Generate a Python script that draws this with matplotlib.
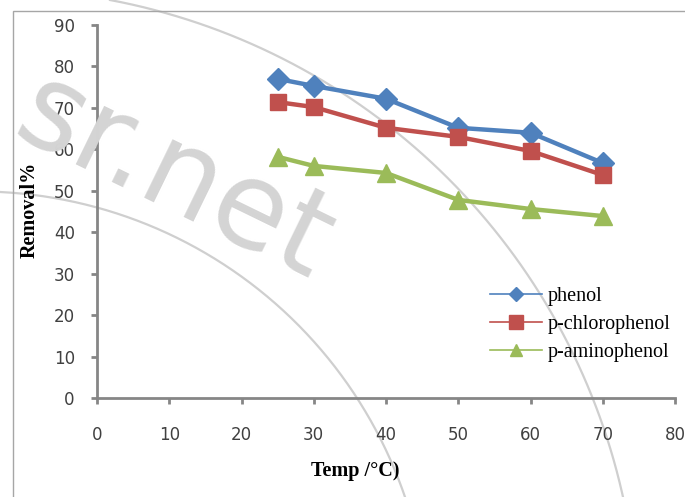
import matplotlib.pyplot as plt
import numpy as np
from matplotlib.patches import Rectangle

# temperatura (°C) e remocao (%) de cada composto
temp = [25, 30, 40, 50, 60, 70]
phenol = [77.0, 75.3, 72.2, 65.2, 64.0, 56.7]
p_chlorophenol = [71.4, 70.2, 65.2, 63.0, 59.6, 53.8]
p_aminophenol = [58.2, 56.0, 54.3, 47.8, 45.6, 43.9]

x_ticks = [0, 10, 20, 30, 40, 50, 60, 70, 80]
y_ticks = [0, 10, 20, 30, 40, 50, 60, 70, 80, 90]

W, H = 685, 497


def arco_por_tres_pontos(p1, p2, p3, n=200):
    # circulo que passa pelos tres pontos, em pixels (y para baixo)
    (x1, y1), (x2, y2), (x3, y3) = p1, p2, p3
    d = 2 * (x1 * (y2 - y3) + x2 * (y3 - y1) + x3 * (y1 - y2))
    ux = ((x1**2 + y1**2) * (y2 - y3) + (x2**2 + y2**2) * (y3 - y1) + (x3**2 + y3**2) * (y1 - y2)) / d
    uy = ((x1**2 + y1**2) * (x3 - x2) + (x2**2 + y2**2) * (x1 - x3) + (x3**2 + y3**2) * (x2 - x1)) / d
    r = np.hypot(x1 - ux, y1 - uy)
    a1 = np.arctan2(y1 - uy, x1 - ux)
    a3 = np.arctan2(y3 - uy, x3 - ux)
    a2 = np.arctan2(y2 - uy, x2 - ux)
    # garante que o arco passe pelo ponto do meio
    if not (min(a1, a3) <= a2 <= max(a1, a3)):
        if a3 < a1:
            a3 += 2 * np.pi
        else:
            a1 += 2 * np.pi
    t = np.linspace(a1, a3, n)
    return (ux + r * np.cos(t)) / W, 1 - (uy + r * np.sin(t)) / H


fig = plt.figure(figsize=(6.85, 4.97), dpi=100)

# moldura da area do grafico
fig.patches.append(Rectangle((13 / W, -0.1), 1.2, 1 - 11 / H + 0.1,
                             transform=fig.transFigure, fill=False,
                             edgecolor="#a6a6a6", linewidth=1.0))

# marca d'agua
for pts in [((110, 0), (510, 250), (623, 497)),
            ((0, 192), (200, 250), (405, 497))]:
    ax_, ay_ = arco_por_tres_pontos(*pts)
    fig.add_artist(plt.Line2D(ax_, ay_, transform=fig.transFigure,
                              color="#cfcfcf", linewidth=1.6, zorder=0))
fig.text(0.255, 0.64, "sr.net", transform=fig.transFigure, fontsize=86,
         color="#d4d4d4", rotation=-26, ha="center", va="center",
         family="DejaVu Sans", zorder=0)

ax = fig.add_axes([97 / W, 1 - 398 / H, 578 / W, 373 / H])
ax.patch.set_alpha(0)

ax.plot(temp, phenol, color="#4F81BD", marker="D", markersize=11,
        linewidth=3.2, label="phenol")
ax.plot(temp, p_chlorophenol, color="#C0504D", marker="s", markersize=12,
        linewidth=3.2, label="p-chlorophenol")
ax.plot(temp, p_aminophenol, color="#9BBB59", marker="^", markersize=13,
        linewidth=3.2, label="p-aminophenol")

ax.set_xlim(0, 80)
ax.set_ylim(0, 90)
ax.set_xticks(x_ticks)
ax.set_yticks(y_ticks)

for lado in ["top", "right"]:
    ax.spines[lado].set_visible(False)
for lado in ["left", "bottom"]:
    ax.spines[lado].set_color("#868686")
    ax.spines[lado].set_linewidth(2)

ax.tick_params(axis="both", direction="out", length=4, width=2,
               color="#868686", labelsize=12, labelcolor="#404040")
ax.tick_params(axis="x", pad=16)
ax.tick_params(axis="y", pad=12)

ax.set_xlabel("Temp /°C)", family="Liberation Serif", fontweight="bold",
              fontsize=14.5)
ax.set_ylabel("Removal%", family="Liberation Serif", fontweight="bold",
              fontsize=14.5)
ax.xaxis.set_label_coords((355 - 97) / 578, -(461 - 398) / 373)
ax.yaxis.set_label_coords(-(97 - 40) / 578, (398 - 210) / 373)

leg = ax.legend(loc="upper left", bbox_to_anchor=(490 / W, 1 - 287 / H),
                bbox_transform=fig.transFigure, frameon=False,
                prop={"family": "Liberation Serif", "size": 14.5},
                handlelength=2.6, handletextpad=0.25, labelspacing=0.45,
                borderaxespad=0, borderpad=0)
for h, ms in zip(leg.legend_handles, [7, 10, 9]):
    h.set_linewidth(1.2)
    h.set_markersize(ms)

fig.savefig("out.png", dpi=100)
